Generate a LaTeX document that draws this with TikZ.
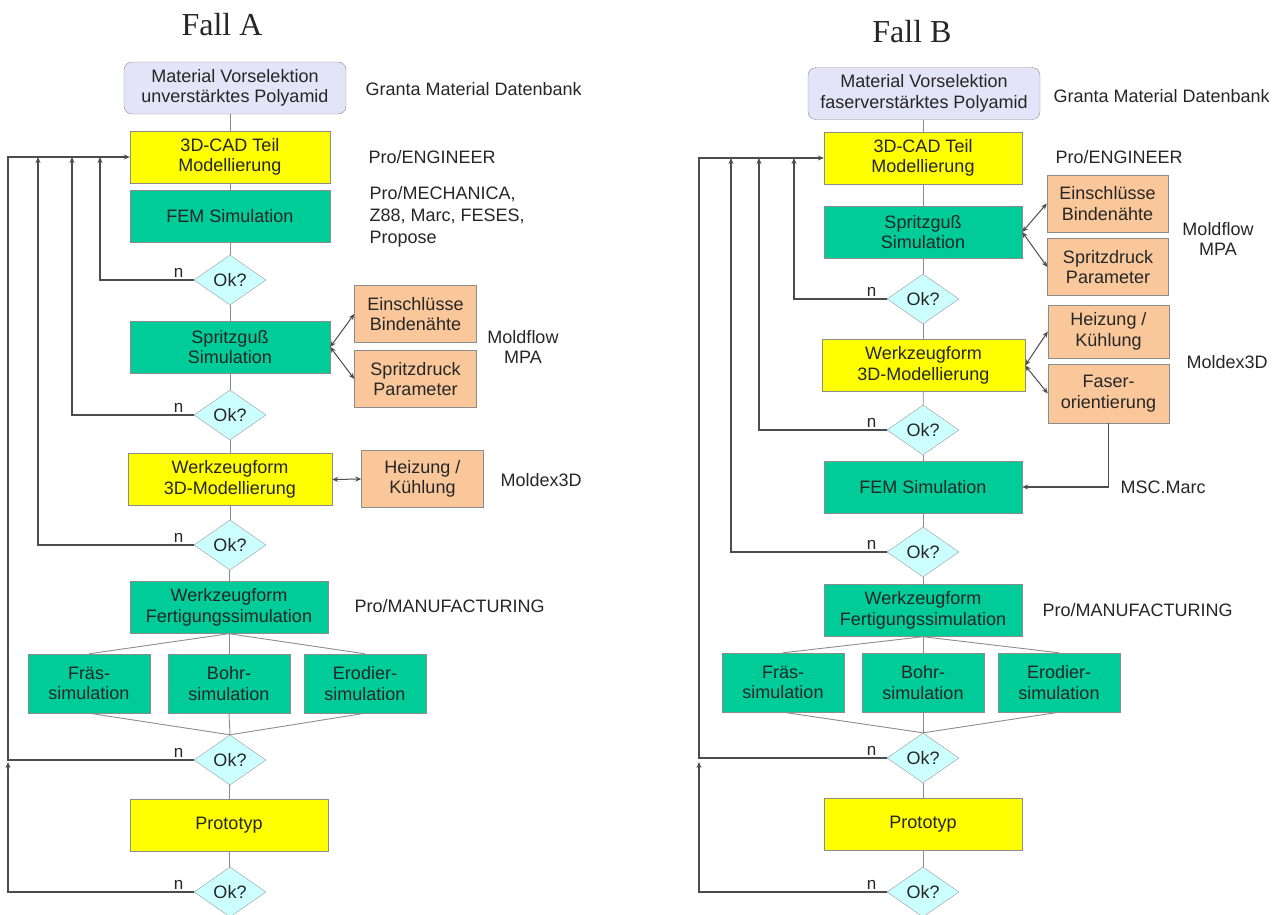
\documentclass[tikz,border=0pt]{standalone}
\usepackage{fontspec}
\setmainfont{Liberation Sans}
\newfontfamily\titlefont{Liberation Serif}
\usetikzlibrary{shapes.geometric,arrows.meta}
\definecolor{boxgreen}{HTML}{00CC99}
\definecolor{boxyellow}{HTML}{FFFF00}
\definecolor{boxpeach}{HTML}{F9C79A}
\definecolor{boxcyan}{HTML}{CCFFFF}
\definecolor{boxlilac}{HTML}{E4E4F8}
\begin{document}
\begin{tikzpicture}[x=1pt,y=-1pt,
    every node/.style={font=\fontsize{18}{20.5}\selectfont, text=black!85},
    box/.style={draw=black!45, align=center, minimum width=200pt, minimum height=52pt, inner sep=2pt},
    matbox/.style={box, rounded corners=8pt, fill=boxlilac, minimum height=52pt},
    ybox/.style={box, fill=boxyellow},
    gbox/.style={box, fill=boxgreen},
    subbox/.style={box, fill=boxgreen, minimum width=122pt, minimum height=59pt},
    pbox/.style={box, fill=boxpeach, minimum width=122pt, minimum height=57pt},
    okdia/.style={diamond, draw=black!40, fill=boxcyan, inner sep=0pt, minimum width=72pt, minimum height=50pt},
    tool/.style={anchor=west, align=left},
    nlab/.style={anchor=south east, inner sep=2pt, xshift=-8pt, font=\fontsize{17}{19}\selectfont},
    flow/.style={draw=black!45, line width=0.9pt},
    fb/.style={draw=black!70, line width=1.1pt, -{Stealth[length=6pt,width=5pt]}},
    dbl/.style={draw=black!70, line width=1pt, {Stealth[length=6pt,width=5pt]}-{Stealth[length=6pt,width=5pt]}}]
\useasboundingbox (0,0) rectangle (1283,914);

% Fall A
\node[font=\titlefont\fontsize{32}{36}\selectfont] (titleA) at (222,25) {Fall A};
\node[matbox, minimum width=222pt] (matA) at (235,88) {Material Vorselektion\\unverstärktes Polyamid};
\node[ybox] (cadA) at (230,157) {3D-CAD Teil\\Modellierung};
\node[gbox] (femA) at (230,216) {FEM Simulation};
\node[okdia] (okA1) at (230,280) {Ok?};
\node[gbox] (sprA) at (230,347) {Spritzguß\\Simulation};
\node[okdia] (okA2) at (230,415) {Ok?};
\node[ybox, minimum width=204pt] (werkA) at (230,479.5) {Werkzeugform\\3D-Modellierung};
\node[okdia] (okA3) at (230,545) {Ok?};
\node[gbox, minimum width=198pt] (fertA) at (229,607.5) {Werkzeugform\\Fertigungssimulation};
\node[subbox] (fraesA) at (89,683.5) {Fräs-\\simulation};
\node[subbox] (bohrA) at (229,683.5) {Bohr-\\simulation};
\node[subbox] (erodA) at (365,683.5) {Erodier-\\simulation};
\node[okdia] (okA4) at (230,760) {Ok?};
\node[ybox, minimum width=198pt] (protoA) at (229,825) {Prototyp};
\node[okdia] (okA5) at (230,892) {Ok?};

\node[pbox] (einA) at (415.5,314) {Einschlüsse\\Bindenähte};
\node[pbox] (druckA) at (415.5,379) {Spritzdruck\\Parameter};
\node[pbox] (heizA) at (422.5,479) {Heizung /\\Kühlung};

\node[tool] (grantaA) at (362,89) {Granta Material Datenbank};
\node[tool] (proeA) at (365,157) {Pro/ENGINEER};
\node[tool, font=\fontsize{18}{22}\selectfont] (mechA) at (366,217) {Pro/MECHANICA,\\Z88, Marc, FESES,\\Propose};
\node[align=center] (moldA) at (523,347) {Moldflow\\MPA};
\node[tool] (dexA) at (497,480) {Moldex3D};
\node[tool] (manA) at (351,606) {Pro/MANUFACTURING};

\coordinate (fbA1) at (100,157);
\coordinate (fbA2) at (72,157);
\coordinate (fbA3) at (38,157);
\coordinate (topA) at (8,157);
\coordinate (botA) at (8,762);

\draw[flow] (cadA.north |- matA.south) -- (cadA.north);
\draw[flow] (cadA) -- (femA);
\draw[flow] (femA) -- (okA1);
\draw[flow] (okA1) -- (sprA);
\draw[flow] (sprA) -- (okA2);
\draw[flow] (okA2) -- (werkA);
\draw[flow] (werkA) -- (okA3);
\draw[flow] (okA3) -- (fertA);
\draw[flow] (fertA.south) -- (fraesA.north);
\draw[flow] (fertA.south) -- (bohrA.north);
\draw[flow] (fertA.south) -- (erodA.north);
\draw[flow] (fraesA.south) -- (okA4.north);
\draw[flow] (bohrA.south) -- (okA4.north);
\draw[flow] (erodA.south) -- (okA4.north);
\draw[flow] (okA4) -- (protoA);
\draw[flow] (protoA) -- (okA5);

\draw[dbl] (sprA.east) -- (einA.west);
\draw[dbl] (sprA.east) -- (druckA.west);
\draw[dbl] (werkA.east) -- (heizA.west);

\draw[fb] (okA1.west) node[nlab] {n} -| (fbA1);
\draw[fb] (okA2.west) node[nlab] {n} -| (fbA2);
\draw[fb] (okA3.west) node[nlab] {n} -| (fbA3);
\draw[fb] (okA4.west) node[nlab] {n} -| (topA) -- (cadA.west);
\draw[fb] (okA5.west) node[nlab] {n} -| (botA);

% Fall B
\node[font=\titlefont\fontsize{32}{36}\selectfont] (titleB) at (912,32) {Fall B};
\node[matbox, minimum width=232pt] (matB) at (924,93.5) {Material Vorselektion\\faserverstärktes Polyamid};
\node[ybox, minimum width=198pt] (cadB) at (923,158) {3D-CAD Teil\\Modellierung};
\node[gbox, minimum width=198pt] (sprB) at (923,232) {Spritzguß\\Simulation};
\node[okdia] (okB1) at (923,299) {Ok?};
\node[ybox, minimum width=203pt] (werkB) at (923.5,365.5) {Werkzeugform\\3D-Modellierung};
\node[okdia] (okB2) at (923,430) {Ok?};
\node[gbox, minimum width=198pt] (femB) at (923,487) {FEM Simulation};
\node[okdia] (okB3) at (923,552) {Ok?};
\node[gbox, minimum width=198pt] (fertB) at (923,610.5) {Werkzeugform\\Fertigungssimulation};
\node[subbox] (fraesB) at (783,682.5) {Fräs-\\simulation};
\node[subbox] (bohrB) at (923,682.5) {Bohr-\\simulation};
\node[subbox] (erodB) at (1059,682.5) {Erodier-\\simulation};
\node[okdia] (okB4) at (923,758) {Ok?};
\node[ybox, minimum width=198pt] (protoB) at (923,824) {Prototyp};
\node[okdia] (okB5) at (923,892) {Ok?};

\node[pbox, minimum width=121pt] (einB) at (1107.5,203.5) {Einschlüsse\\Bindenähte};
\node[pbox, minimum width=121pt] (druckB) at (1108,267) {Spritzdruck\\Parameter};
\node[pbox, minimum width=121pt, minimum height=53pt] (heizB) at (1108.5,331.5) {Heizung /\\Kühlung};
\node[pbox, minimum width=121pt, minimum height=59pt] (faserB) at (1108.5,393.5) {Faser-\\orientierung};

\node[tool] (grantaB) at (1050,96) {Granta Material Datenbank};
\node[tool] (proeB) at (1052,157) {Pro/ENGINEER};
\node[align=center] (moldB) at (1218,239) {Moldflow\\MPA};
\node[tool] (dexB) at (1183,362) {Moldex3D};
\node[tool] (marcB) at (1117,487) {MSC.Marc};
\node[tool] (manB) at (1039,610) {Pro/MANUFACTURING};

\coordinate (fbB1) at (794,158);
\coordinate (fbB2) at (759,158);
\coordinate (fbB3) at (731,158);
\coordinate (topB) at (699,158);
\coordinate (botB) at (699,762);

\draw[flow] (cadB.north |- matB.south) -- (cadB.north);
\draw[flow] (cadB) -- (sprB);
\draw[flow] (sprB) -- (okB1);
\draw[flow] (okB1) -- (werkB.south |- okB1.south) -- (werkB.north);
\draw[flow] (werkB) -- (okB2);
\draw[flow] (okB2) -- (femB);
\draw[flow] (femB) -- (okB3);
\draw[flow] (okB3) -- (fertB);
\draw[flow] (fertB.south) -- (fraesB.north);
\draw[flow] (fertB.south) -- (bohrB.north);
\draw[flow] (fertB.south) -- (erodB.north);
\draw[flow] (fraesB.south) -- (okB4.north);
\draw[flow] (bohrB.south) -- (okB4.north);
\draw[flow] (erodB.south) -- (okB4.north);
\draw[flow] (okB4) -- (protoB);
\draw[flow] (protoB) -- (okB5);

\draw[dbl] (sprB.east) -- (einB.west);
\draw[dbl] (sprB.east) -- (druckB.west);
\draw[dbl] (werkB.east) -- (heizB.west);
\draw[dbl] (werkB.east) -- (faserB.west);
\draw[fb] (faserB.south) |- (femB.east);

\draw[fb] (okB1.west) node[nlab] {n} -| (fbB1);
\draw[fb] (okB2.west) node[nlab] {n} -| (fbB2);
\draw[fb] (okB3.west) node[nlab] {n} -| (fbB3);
\draw[fb] (okB4.west) node[nlab] {n} -| (topB) -- (cadB.west);
\draw[fb] (okB5.west) node[nlab] {n} -| (botB);
\end{tikzpicture}
\end{document}
